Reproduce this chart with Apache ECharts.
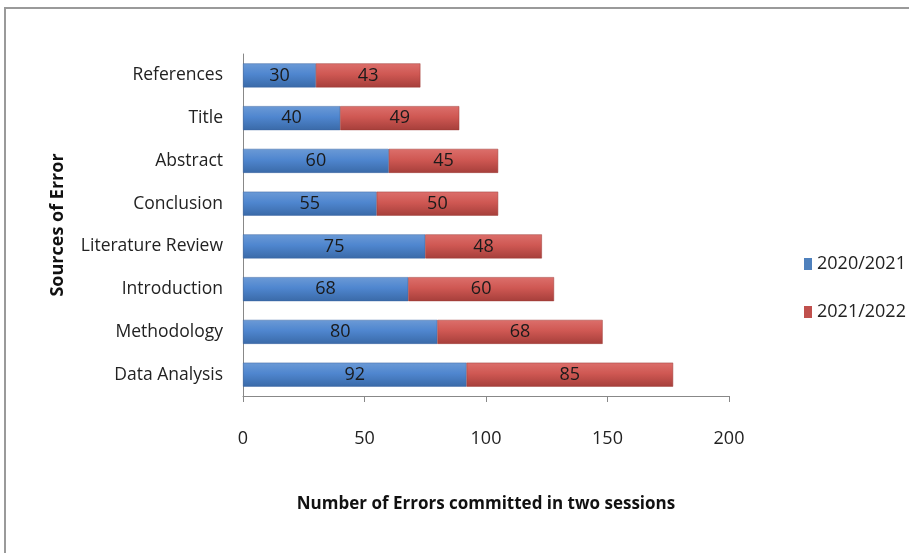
<!DOCTYPE html>
<html>
<head>
<meta charset="utf-8">
<script src="https://cdn.jsdelivr.net/npm/echarts@6/dist/echarts.min.js"></script>
<style>
  html, body { margin: 0; padding: 0; background: #fff; }
  #main { width: 909px; height: 553px; }
</style>
</head>
<body>
<div id="main"></div>
<script>
var categories = ['Data Analysis', 'Methodology', 'Introduction', 'Literature Review', 'Conclusion', 'Abstract', 'Title', 'References'];
var session1 = [92, 80, 68, 75, 55, 60, 40, 30];
var session2 = [85, 68, 60, 48, 50, 45, 49, 43];
var seriesNames = ['2020/2021', '2021/2022'];
var xTicks = [0, 50, 100, 150, 200];

var chartDom = document.getElementById('main');
var myChart = echarts.init(chartDom);
var option;

var font = '"Liberation Sans Narrow", "Open Sans", sans-serif';

function grad(top, mid, bottom) {
  return new echarts.graphic.LinearGradient(0, 0, 0, 1, [
    { offset: 0, color: top },
    { offset: 0.45, color: mid },
    { offset: 1, color: bottom }
  ]);
}

option = {
  backgroundColor: '#fff',
  animation: false,
  graphic: [
    {
      type: 'rect',
      shape: { x: 5, y: 8, width: 960, height: 600 },
      style: { fill: 'none', stroke: '#9a9a9a', lineWidth: 2 }
    }
  ],
  grid: {
    left: 243,
    right: 180,
    top: 54,
    bottom: 157
  },
  legend: {
    orient: 'vertical',
    left: 799,
    top: 250,
    itemGap: 30,
    itemWidth: 8,
    itemHeight: 12,
    icon: 'rect',
    textStyle: { fontFamily: font, fontSize: 18, color: '#222' },
    data: [
      { name: seriesNames[0], itemStyle: { color: '#4f81bd', borderWidth: 0 } },
      { name: seriesNames[1], itemStyle: { color: '#c0504d', borderWidth: 0 } }
    ]
  },
  xAxis: {
    type: 'value',
    min: 0,
    max: 200,
    interval: 50,
    name: 'Number of Errors committed in two sessions',
    nameLocation: 'middle',
    nameGap: 100,
    nameTextStyle: { fontFamily: font, fontSize: 17, fontWeight: 'bold', color: '#111' },
    axisLine: { show: true, lineStyle: { color: '#888' } },
    axisTick: { show: true, length: 6, lineStyle: { color: '#888' } },
    axisLabel: {
      fontFamily: font, fontSize: 18, color: '#222', margin: 34,
      formatter: function (v) { return xTicks.indexOf(v) >= 0 ? String(v) : ''; }
    },
    splitLine: { show: false }
  },
  yAxis: {
    type: 'category',
    data: categories,
    name: 'Sources of Error',
    nameLocation: 'middle',
    nameRotate: 90,
    nameGap: 176,
    nameTextStyle: { fontFamily: font, fontSize: 18, fontWeight: 'bold', color: '#111' },
    axisLine: { show: true, lineStyle: { color: '#888' } },
    axisTick: { show: false },
    axisLabel: { fontFamily: font, fontSize: 17.5, color: '#222', margin: 20 }
  },
  series: [
    {
      name: seriesNames[0],
      type: 'bar',
      stack: 'total',
      barWidth: 24,
      data: session1,
      itemStyle: { color: grad('#6b9ad6', '#4f86cf', '#3a6aa8'), borderColor: '#3b65a0', borderWidth: 0.5 },
      label: { show: true, position: 'inside', fontFamily: font, fontSize: 18, color: '#1a1a1a' }
    },
    {
      name: seriesNames[1],
      type: 'bar',
      stack: 'total',
      barWidth: 24,
      data: session2,
      itemStyle: { color: grad('#dc6f6b', '#cf5853', '#a63f3b'), borderColor: '#9c3a36', borderWidth: 0.5 },
      label: { show: true, position: 'inside', fontFamily: font, fontSize: 18, color: '#1a1a1a' }
    }
  ]
};

option && myChart.setOption(option);
</script>
</body>
</html>
